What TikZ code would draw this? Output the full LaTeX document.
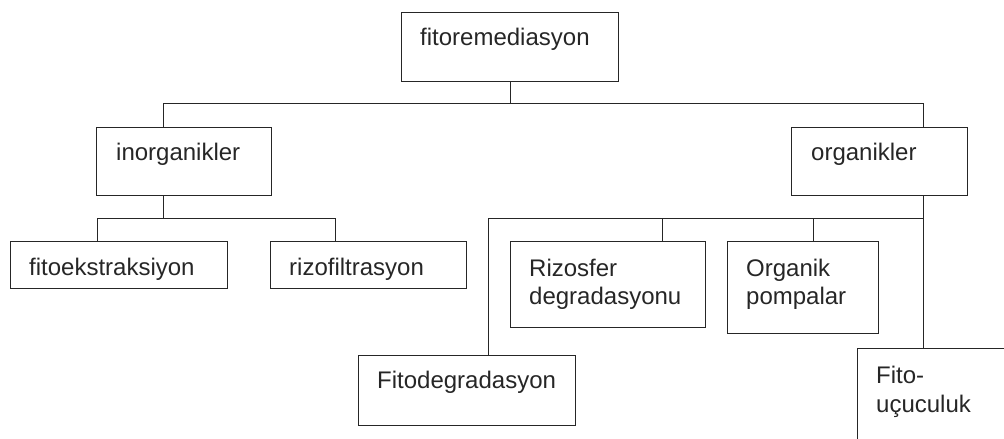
\documentclass[tikz,border=0pt]{standalone}
\usepackage{fontspec}
\setmainfont{Liberation Sans}
\usepackage{tikz}

\tikzset{
  box/.style={draw, line width=1pt, anchor=north west, inner sep=0pt},
  txt/.style={anchor=base west, align=left, inner sep=0pt,
    font=\fontsize{24pt}{28.5pt}\selectfont},
  link/.style={line width=1pt}
}

\begin{document}
\begin{tikzpicture}[x=1pt, y=-1pt, color=black!85]
        \clip (0,0) rectangle (1004,439);

        % Top
        \node [box, minimum width=217pt, minimum height=69pt] (fr) at (401,12) {};
        \node [txt] (fr-t) at ([shift={(19,33)}]fr.north west) {fitoremediasyon};

        % Level 1
        \node [box, minimum width=175pt, minimum height=68pt] (inorg) at (96,127) {};
        \node [txt] (inorg-t) at ([shift={(20,33)}]inorg.north west) {inorganikler};
        \node [box, minimum width=176pt, minimum height=68pt] (org) at (791,127) {};
        \node [txt] (org-t) at ([shift={(20,33)}]org.north west) {organikler};

        % Inorganic branch
        \node [box, minimum width=217pt, minimum height=47pt] (fe) at (10,241) {};
        \node [txt] (fe-t) at ([shift={(19,34)}]fe.north west) {fitoekstraksiyon};
        \node [box, minimum width=196pt, minimum height=47pt] (rf) at (270,241) {};
        \node [txt] (rf-t) at ([shift={(19,34)}]rf.north west) {rizofiltrasyon};

        % Organic branch (two-line texts sit on their last line)
        \node [box, minimum width=195pt, minimum height=86pt] (rd) at (510,241) {};
        \node [txt] (rd-t) at ([shift={(19,63.5)}]rd.north west) {Rizosfer\\degradasyonu};
        \node [box, minimum width=151pt, minimum height=92pt] (op) at (727,241) {};
        \node [txt] (op-t) at ([shift={(19,63.5)}]op.north west) {Organik\\pompalar};
        \node [box, minimum width=217pt, minimum height=70pt] (fd) at (358,355) {};
        \node [txt] (fd-t) at ([shift={(19,33)}]fd.north west) {Fitodegradasyon};
        \node [box, minimum width=160pt, minimum height=100pt] (fu) at (857,348) {};
        \node [txt] (fu-t) at ([shift={(19,64)}]fu.north west) {Fito-\\uçuculuk};

        % Links
        \coordinate (ja) at (163,103);
        \coordinate (jb) at (923,103);
        \draw [link] (fr.south) -- (fr.south |- ja);
        \draw [link] (inorg.north -| ja) -- (ja) -- (jb) -- (org.north -| jb);

        \coordinate (jc) at (97,218);
        \coordinate (jd) at (335,218);
        \draw [link] (inorg.south -| ja) -- (ja |- jc);
        \draw [link] (fe.north -| jc) -- (jc) -- (jd) -- (rf.north -| jd);

        \coordinate (je) at (488,218);
        \coordinate (jf) at (662,218);
        \coordinate (jg) at (813,218);
        \draw [link] (fd.north -| je) -- (je) -- (jb |- je);
        \draw [link] (org.south -| jb) -- (fu.north -| jb);
        \draw [link] (jf) -- (rd.north -| jf);
        \draw [link] (jg) -- (op.north -| jg);
\end{tikzpicture}
\end{document}
